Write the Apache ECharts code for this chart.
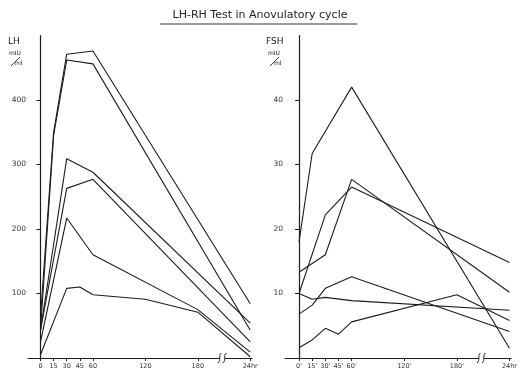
<!DOCTYPE html>
<html>
<head>
<meta charset="utf-8">
<script src="https://cdn.jsdelivr.net/npm/echarts@6/dist/echarts.min.js"></script>
<style>
  html, body { margin: 0; padding: 0; background: #fff; }
  #c { width: 520px; height: 376px; }
</style>
</head>
<body>
<div id="c"></div>
<script>
// Sampling times in minutes; the 24 hour sample sits at 240 past the axis break
const timeTicks = [0, 15, 30, 45, 60, 120, 180, 240];
const lhTimeLabels = ['0', '15', '30', '45', '60', '120', '180', '24hr'];
const fshTimeLabels = ["0'", "15'", "30'", "45'", "60'", "120'", "180'", '24hr'];
const lhValueTicks = [100, 200, 300, 400];
const fshValueTicks = [10, 20, 30, 40];

// LH (mIU/ml), one array per patient: [minutes, value]
const lhA = [[0, 64], [15, 350], [30, 471], [60, 476], [240, 84]];
const lhB = [[0, 43], [15, 345], [30, 462], [60, 456], [240, 43]];
const lhC = [[0, 43], [30, 309], [60, 288], [240, 54]];
const lhD = [[0, 43], [30, 263], [60, 277], [240, 25]];
const lhE = [[0, 25], [30, 217], [60, 160], [180, 75], [240, 9]];
const lhF = [[0, 5], [30, 108], [45, 110], [60, 98], [120, 91], [180, 71], [240, 2]];

// FSH (mIU/ml)
const fshA = [[0, 18.0], [15, 31.7], [60, 42.0], [240, 1.5]];
const fshB = [[0, 13.3], [30, 16.0], [60, 27.7], [240, 10.2]];
const fshC = [[0, 10.0], [30, 22.2], [60, 26.5], [240, 14.8]];
const fshD = [[0, 6.8], [15, 8.2], [30, 10.8], [60, 12.6], [240, 4.1]];
const fshE = [[0, 10.0], [15, 9.1], [30, 9.4], [60, 8.9], [240, 7.4]];
const fshF = [[0, 1.6], [15, 2.8], [30, 4.6], [45, 3.7], [60, 5.6], [180, 9.8], [240, 5.8]];

const lhSeries = [lhA, lhB, lhC, lhD, lhE, lhF];
const fshSeries = [fshA, fshB, fshC, fshD, fshE, fshF];

const ink = '#1c1c1c';
const font = 'DejaVu Sans';

function timeAxis(gridIndex, min, labels) {
  return {
    type: 'value', gridIndex, min, max: 242,
    splitLine: { show: false },
    axisLine: { show: true, onZero: false, lineStyle: { color: ink, width: 1.2 } },
    axisTick: { show: true, customValues: timeTicks, length: 3, lineStyle: { color: ink } },
    axisLabel: {
      show: true, customValues: timeTicks, margin: 5,
      fontFamily: font, fontSize: 6.5, color: '#333',
      formatter: v => labels[timeTicks.indexOf(v)]
    }
  };
}

function levelAxis(gridIndex, max, ticks) {
  return {
    type: 'value', gridIndex, min: 0, max,
    splitLine: { show: false },
    axisLine: { show: true, lineStyle: { color: ink, width: 1.2 } },
    axisTick: { show: true, customValues: ticks, length: 4, lineStyle: { color: ink } },
    axisLabel: {
      show: true, customValues: ticks, margin: 2,
      fontFamily: font, fontSize: 7.5, color: '#333'
    }
  };
}

function lines(list, axisIndex) {
  return list.map(d => ({
    type: 'line', data: d,
    xAxisIndex: axisIndex, yAxisIndex: axisIndex,
    showSymbol: false, symbol: 'none', smooth: false,
    lineStyle: { color: ink, width: 1.1 },
    silent: true
  }));
}

const chart = echarts.init(document.getElementById('c'), null, { renderer: 'canvas' });

chart.setOption({
  animation: false,
  backgroundColor: '#fff',
  grid: [
    { left: 28, top: 35.5, width: 224, height: 322.5 },
    { left: 285, top: 35.5, width: 229.4, height: 322.5 }
  ],
  xAxis: [timeAxis(0, -14.3, lhTimeLabels), timeAxis(1, -16, fshTimeLabels)],
  yAxis: [levelAxis(0, 500, lhValueTicks), levelAxis(1, 50, fshValueTicks)],
  series: [...lines(lhSeries, 0), ...lines(fshSeries, 1)]
});

// Axis break marks near the 24 hour sample, placed through each axis scale
const breakAt = 208;
const graphics = [];
[0, 1].forEach(i => {
  const x = chart.convertToPixel({ xAxisIndex: i }, breakAt);
  const y = chart.convertToPixel({ yAxisIndex: i }, 0);
  graphics.push({ type: 'rect', shape: { x: x - 3, y: y - 2, width: 6, height: 4 }, style: { fill: '#fff' }, z: 100 });
  [-2.5, 2.5].forEach(dx => graphics.push({
    type: 'bezierCurve',
    shape: { x1: x + dx - 2, y1: y + 5, x2: x + dx + 1.5, y2: y - 5, cpx1: x + dx + 2, cpy1: y + 2, cpx2: x + dx - 2, cpy2: y - 2 },
    style: { stroke: ink, lineWidth: 1, fill: null }, z: 101
  }));
});

// Title with underline, and units of each panel
graphics.push(
  { type: 'text', left: 'center', top: 10, style: { text: 'LH-RH Test in Anovulatory cycle', font: '11px "DejaVu Sans"', fill: '#222' } },
  { type: 'line', shape: { x1: 160, y1: 24, x2: 357, y2: 24 }, style: { stroke: '#333', lineWidth: 1 } },
  { type: 'text', x: 8, y: 37, style: { text: 'LH', font: '9px "DejaVu Sans"', fill: '#222' } },
  { type: 'text', x: 9, y: 50, style: { text: 'mIU', font: '6px "DejaVu Sans"', fill: '#222' } },
  { type: 'line', shape: { x1: 11, y1: 66, x2: 20, y2: 57 }, style: { stroke: '#222', lineWidth: 0.9 } },
  { type: 'text', x: 15, y: 60, style: { text: 'ml', font: '6px "DejaVu Sans"', fill: '#222' } },
  { type: 'text', x: 266, y: 37, style: { text: 'FSH', font: '9px "DejaVu Sans"', fill: '#222' } },
  { type: 'text', x: 268, y: 50, style: { text: 'mIU', font: '6px "DejaVu Sans"', fill: '#222' } },
  { type: 'line', shape: { x1: 270, y1: 66, x2: 279, y2: 57 }, style: { stroke: '#222', lineWidth: 0.9 } },
  { type: 'text', x: 274, y: 60, style: { text: 'ml', font: '6px "DejaVu Sans"', fill: '#222' } }
);

chart.setOption({ graphic: graphics });
</script>
</body>
</html>
